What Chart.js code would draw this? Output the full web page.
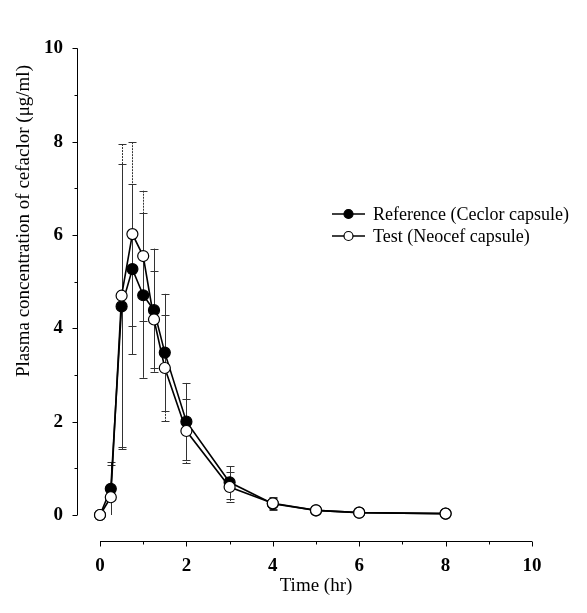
<!DOCTYPE html>
<html>
<head>
<meta charset="utf-8">
<script src="https://cdn.jsdelivr.net/npm/chart.js@4.4.1/dist/chart.umd.min.js"></script>
<style>
  html, body { margin: 0; padding: 0; background: #fff; }
  canvas { display: block; }
</style>
</head>
<body>
<canvas id="myChart" width="587" height="613"></canvas>
<script>
// sampling times (hr) and mean +/- SD concentrations
var timeHr   = [0, 0.25, 0.5, 0.75, 1, 1.25, 1.5, 2, 3, 4, 5, 6, 8];
var refMean  = [0, 0.56, 4.47, 5.27, 4.71, 4.39, 3.48, 2.00, 0.70, 0.24, 0.10, 0.05, 0.03];
var refSd    = [0, 0.57, 3.06, 1.82, 1.77, 1.32, 1.26, 0.83, 0.35, 0.13, 0.04, 0.02, 0.01];
var testMean = [0, 0.38, 4.70, 6.02, 5.55, 4.19, 3.15, 1.80, 0.60, 0.25, 0.10, 0.05, 0.03];
var testSd   = [0, 0.70, 3.25, 1.97, 1.40, 1.05, 1.14, 0.69, 0.32, 0.13, 0.04, 0.02, 0.01];

var xTicks = [0, 2, 4, 6, 8, 10];
var yTicks = [0, 2, 4, 6, 8, 10];
var minorTicks = [1, 3, 5, 7, 9];
var seriesNames = ["Reference (Ceclor capsule)", "Test (Neocef capsule)"];
var xTitle = "Time (hr)";
var yTitle = "Plasma concentration of cefaclor (\u03bcg/ml)";

var serif = "'Liberation Serif', 'Times New Roman', serif";

function pts(ys) {
  return timeHr.map(function (t, i) { return { x: t, y: ys[i] }; });
}

// SigmaPlot style: axes pulled away from the data, error bars, inline legend
var extras = {
  id: 'extras',
  beforeDatasetsDraw: function (chart) {
    var ctx = chart.ctx, xs = chart.scales.x, ys = chart.scales.y, a = chart.chartArea;
    ctx.save();
    ctx.beginPath();
    ctx.rect(a.left - 10, a.top - 10, a.right - a.left + 20, a.bottom - a.top + 10);
    ctx.clip();
    chart.data.datasets.forEach(function (ds) {
      ctx.strokeStyle = '#333';
      ctx.lineWidth = 1;
      ctx.setLineDash(ds.dotted ? [2, 1] : []);
      ds.sd.forEach(function (s, i) {
        if (!s) return;
        var px = Math.round(xs.getPixelForValue(timeHr[i])) + 0.5;
        var top = ys.getPixelForValue(ds.mean[i] + s);
        var bot = ys.getPixelForValue(ds.mean[i] - s);
        ctx.beginPath();
        ctx.moveTo(px, top); ctx.lineTo(px, bot);
        ctx.stroke();
        ctx.setLineDash([]);
        ctx.beginPath();
        ctx.moveTo(px - 4, Math.round(top) + 0.5); ctx.lineTo(px + 4, Math.round(top) + 0.5);
        ctx.moveTo(px - 4, Math.round(bot) + 0.5); ctx.lineTo(px + 4, Math.round(bot) + 0.5);
        ctx.stroke();
        ctx.setLineDash(ds.dotted ? [2, 1] : []);
      });
    });
    ctx.restore();
  },
  afterDraw: function (chart) {
    var ctx = chart.ctx, xs = chart.scales.x, ys = chart.scales.y, a = chart.chartArea;
    ctx.save();
    ctx.strokeStyle = '#000';
    ctx.lineWidth = 1;

    // y axis, 23px left of the data
    var ax = Math.round(a.left - 23) + 0.5;
    ctx.beginPath();
    ctx.moveTo(ax, ys.getPixelForValue(10)); ctx.lineTo(ax, ys.getPixelForValue(0));
    yTicks.forEach(function (v) {
      var py = Math.round(ys.getPixelForValue(v)) + 0.5;
      ctx.moveTo(ax, py); ctx.lineTo(ax - 5, py);
    });
    minorTicks.forEach(function (v) {
      var py = Math.round(ys.getPixelForValue(v)) + 0.5;
      ctx.moveTo(ax, py); ctx.lineTo(ax - 3, py);
    });
    // x axis, 26px below the data
    var ay = Math.round(a.bottom + 26) + 0.5;
    ctx.moveTo(xs.getPixelForValue(0), ay); ctx.lineTo(xs.getPixelForValue(10), ay);
    xTicks.forEach(function (v) {
      var px = Math.round(xs.getPixelForValue(v)) + 0.5;
      ctx.moveTo(px, ay); ctx.lineTo(px, ay + 5);
    });
    minorTicks.forEach(function (v) {
      var px = Math.round(xs.getPixelForValue(v)) + 0.5;
      ctx.moveTo(px, ay); ctx.lineTo(px, ay + 3);
    });
    ctx.stroke();

    // y title sits above centre in the original
    ctx.fillStyle = '#000';
    ctx.font = '19px ' + serif;
    ctx.textAlign = 'center';
    ctx.textBaseline = 'middle';
    ctx.translate(24, 221);
    ctx.rotate(-Math.PI / 2);
    ctx.fillText(yTitle, 0, 0);
    ctx.setTransform(1, 0, 0, 1, 0, 0);

    // legend
    ctx.font = '18px ' + serif;
    ctx.textAlign = 'left';
    chart.data.datasets.forEach(function (ds, i) {
      var ly = 214 + i * 22;
      ctx.beginPath();
      ctx.lineWidth = 1.5;
      ctx.moveTo(332, ly); ctx.lineTo(365, ly);
      ctx.stroke();
      ctx.beginPath();
      ctx.arc(348.5, ly, 4.5, 0, Math.PI * 2);
      ctx.fillStyle = ds.pointBackgroundColor;
      ctx.fill();
      ctx.lineWidth = 1.2;
      ctx.stroke();
      ctx.fillStyle = '#000';
      ctx.fillText(ds.label, 373, ly + 1);
    });
    ctx.restore();
  }
};

new Chart("myChart", {
  type: "line",
  data: {
    datasets: [{
      label: seriesNames[0],
      data: pts(refMean),
      mean: refMean,
      sd: refSd,
      order: 1,
      borderColor: '#000',
      borderWidth: 1.6,
      pointRadius: 5.5,
      pointBorderWidth: 1.2,
      pointBorderColor: '#000',
      pointBackgroundColor: '#000',
      fill: false,
      tension: 0
    }, {
      label: seriesNames[1],
      data: pts(testMean),
      mean: testMean,
      sd: testSd,
      dotted: true,
      order: 0,
      borderColor: '#000',
      borderWidth: 1.6,
      pointRadius: 5.5,
      pointBorderWidth: 1.2,
      pointBorderColor: '#000',
      pointBackgroundColor: '#fff',
      fill: false,
      tension: 0
    }]
  },
  options: {
    responsive: false,
    animation: false,
    clip: false,
    layout: { padding: { top: 15, right: 55, left: 0, bottom: 0 } },
    plugins: { legend: { display: false }, tooltip: { enabled: false } },
    scales: {
      x: {
        type: 'linear',
        min: 0, max: 10,
        afterBuildTicks: function (s) { s.ticks = xTicks.map(function (v) { return { value: v }; }); },
        afterFit: function (s) { s.height = 98; },
        grid: { display: false, drawTicks: false },
        border: { display: false },
        ticks: { padding: 40, color: '#000', font: { family: serif, size: 19, weight: 'bold' } },
        title: {
          display: true, text: xTitle, color: '#000',
          font: { family: serif, size: 19 },
          padding: { top: 0, bottom: 16 }
        }
      },
      y: {
        min: 0, max: 10,
        afterBuildTicks: function (s) { s.ticks = yTicks.map(function (v) { return { value: v }; }); },
        afterFit: function (s) { s.width = 100; },
        grid: { display: false, drawTicks: false },
        border: { display: false },
        ticks: { padding: 37, color: '#000', font: { family: serif, size: 19, weight: 'bold' } }
      }
    }
  },
  plugins: [extras]
});
</script>
</body>
</html>
